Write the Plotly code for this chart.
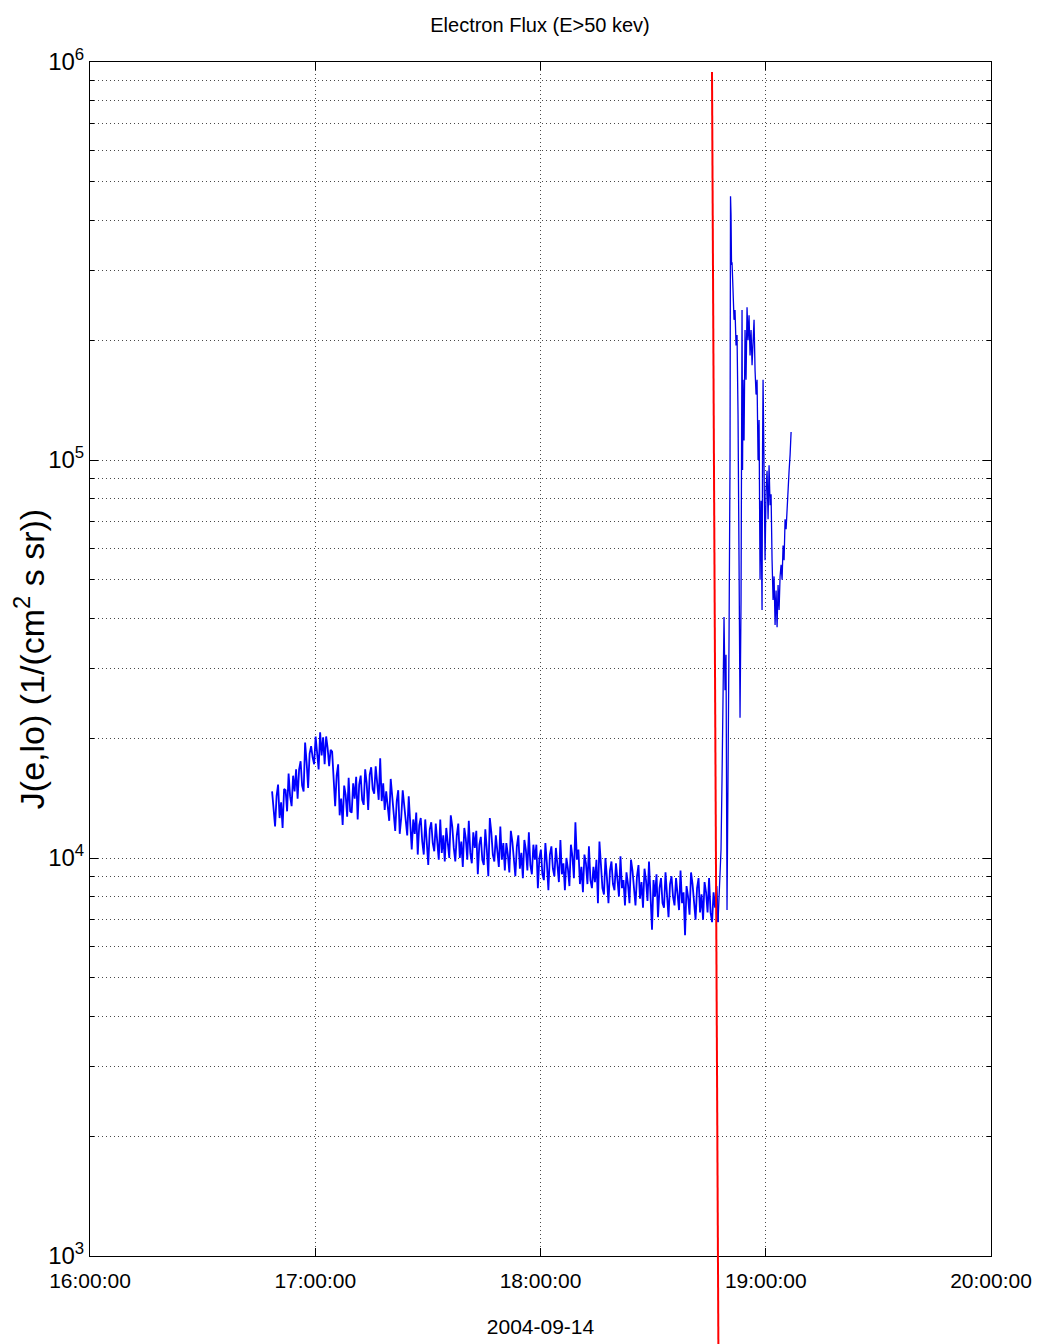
import pandas as pd
import plotly.graph_objects as go

# ---------------- data ----------------
DATE = "2004-09-14"
TITLE = "Electron Flux (E>50 kev)"
Y_TITLE = "J(e,lo) (1/(cm<sup>2</sup> s sr))"
X_TITLE = "2004-09-14"

# quiet interval, sampled every 24 s from 16:48:30 (flux in units of 1e3)
quiet_start = "2004-09-14 16:48:30"
quiet_cadence = "24s"
quiet_flux_k = [
    14.7, 13.0, 12.0, 14.3, 15.3, 12.6, 13.8, 11.9, 14.9,
    14.8, 13.1, 16.3,
    14.3, 13.5, 16.1, 14.7, 16.7,
    14.1, 16.7, 17.5, 15.2, 14.7,
    19.5, 17.4, 15.0, 18.3, 19.1,
    17.9, 17.2, 20.2, 18.3, 16.7,
    20.7, 18.1, 20.1, 17.2,
    20.2, 18.9, 17.0,
    18.7, 18.5, 16.3,
    13.5, 16.1, 17.2,
    12.8, 14.1, 12.1,
    15.2, 14.4, 12.7, 15.9, 13.1,
    13.0, 15.4, 14.1, 16.0, 12.5,
    15.3, 16.1, 14.0, 13.6, 16.7,
    15.4, 13.2, 16.2, 16.9, 14.9,
    14.5, 17.0, 15.4, 14.0, 17.8,
    13.9, 15.4, 13.2,
    14.7, 13.7, 12.4, 15.8,
    14.3, 12.6, 11.7, 13.9, 14.8,
    11.5, 12.6, 14.8, 13.6, 12.9, 11.4, 14.3, 11.8,
    10.5, 12.5, 11.5, 13.0, 10.2, 12.1, 12.6, 11.0,
    10.2, 12.5, 11.2, 9.6, 11.8, 12.3, 10.9, 10.4, 12.2, 11.1,
    9.9, 12.5, 10.3, 11.4, 9.8, 11.9, 11.1, 10.0, 12.8, 12.0, 10.6, 9.8,
    11.4, 12.2, 10.0, 11.0, 9.5, 11.9, 11.2, 9.9, 12.4, 10.3, 9.7, 11.6, 10.6,
    11.7, 9.1, 10.8, 11.3, 9.9, 9.6, 11.8, 10.5, 9.0, 12.6,
    11.6, 10.2, 9.8, 11.4, 10.4, 9.5, 12.0, 9.9, 10.9, 9.3,
    10.9, 10.2, 9.2, 11.7, 11.0, 9.7, 9.0, 10.7, 11.4, 9.4,
    10.3, 8.9, 11.1, 10.5, 9.3, 11.6, 9.6, 9.1, 10.8, 9.9,
    10.8, 8.4, 10.0, 10.5, 9.1, 8.8, 10.9, 9.7, 8.3, 10.2,
    10.7, 9.4, 9.0, 10.6, 9.6, 8.7, 11.1, 9.1,
    9.7, 8.3, 10.0, 9.4, 8.5, 10.8, 10.1, 8.9, 12.3, 9.9,
    10.5, 8.6, 9.5, 8.2, 10.2, 9.7, 8.6, 10.7, 8.8, 8.4,
    9.5, 8.7, 9.9, 7.7, 11.0, 9.6, 8.4, 8.1, 10.0, 8.9,
    7.7, 9.3, 9.8, 8.6, 8.3, 9.7, 8.8, 8.0, 10.1, 8.4,
    8.8, 7.6, 9.2, 8.6, 7.7, 9.9, 9.3, 8.2, 7.6, 9.0,
    9.6, 7.9, 8.7, 7.5, 9.4, 8.8, 7.8, 9.8, 8.1, 6.6,
    8.8, 8.0, 9.1, 7.1, 8.4, 8.9, 7.7, 7.5, 9.2, 8.2,
    7.1, 8.6, 9.0, 8.0, 7.6, 8.9, 8.1, 7.4, 9.3, 7.7,
    8.2, 6.4, 8.5, 8.0, 7.2, 9.2, 8.6, 7.6, 7.0, 8.4,
    8.9, 7.3, 8.1, 7.0, 8.7, 8.2, 7.3,
    8.9, 7.3, 6.9, 8.2, 7.5, 8.5,
]

# injection burst (irregular samples)
burst_times = [
    "18:47:17", "18:47:33", "18:47:49", "18:48:05", "18:48:21", "18:48:37",
    "18:48:53", "18:49:09", "18:49:25", "18:49:41", "18:49:57", "18:50:13",
    "18:50:29", "18:50:37", "18:50:45", "18:50:53", "18:51:01", "18:51:17",
    "18:51:33", "18:51:49", "18:52:05", "18:52:21", "18:52:37", "18:52:53",
    "18:53:09", "18:53:25", "18:53:41", "18:53:49", "18:53:57", "18:54:13",
    "18:54:29", "18:54:45", "18:55:01", "18:55:17", "18:55:33", "18:55:49",
    "18:56:05", "18:56:21", "18:56:37", "18:56:53", "18:57:09", "18:57:25",
    "18:57:41", "18:57:57", "18:58:13", "18:58:29", "18:58:45", "18:59:01",
    "18:59:09", "18:59:17", "18:59:33", "18:59:49", "19:00:05", "19:00:21",
    "19:00:37", "19:00:53", "19:01:09", "19:01:25", "19:01:41", "19:01:57",
    "19:02:13", "19:02:29", "19:02:45", "19:03:01", "19:03:17", "19:03:33",
    "19:03:49", "19:04:05", "19:04:21", "19:04:37", "19:04:53", "19:05:09",
    "19:05:25", "19:05:41", "19:05:57", "19:06:13", "19:06:29", "19:06:45",
]
burst_flux = [
    6900, 8070, 9060, 10470, 15700, 33300,
    40300, 26400, 32400, 7400, 14000, 35300,
    100000, 460000, 413000, 309000, 314000, 267000,
    225000, 238000, 194000, 206000, 130000, 56000,
    22500, 44500, 238000, 94400, 159000, 112000,
    212000, 159000, 242000, 200000, 231000, 183000,
    212000, 173000, 200000, 225000, 168000, 146000,
    159000, 100000, 126000, 50000, 79000, 42000,
    106000, 159000, 94000, 56000, 84000, 94000,
    71000, 97000, 77000, 82000, 56000, 44500,
    51000, 38500, 47000, 38000, 48500, 42000,
    51000, 54500, 50000, 61000, 56000, 71000,
    67000, 77000, 84000, 94000, 103000, 117600,
]

# red event marker line (time at top, time at bottom)
marker_times = ["2004-09-14 18:45:41", "2004-09-14 18:47:23"]

x_range = ["2004-09-14 16:00:00", "2004-09-14 20:00:00"]
x_ticks = ["2004-09-14 16:00:00", "2004-09-14 17:00:00", "2004-09-14 18:00:00",
           "2004-09-14 19:00:00", "2004-09-14 20:00:00"]
x_ticklabels = ["16:00:00", "17:00:00", "18:00:00", "19:00:00", "20:00:00"]
y_ticks = [1e3, 1e4, 1e5, 1e6]
y_ticklabels = ["10<sup>3</sup>", "10<sup>4</sup>", "10<sup>5</sup>", "10<sup>6</sup>"]
y_minor = [m * d for d in (1e3, 1e4, 1e5) for m in range(2, 10)]

# ---------------- build ----------------
quiet_t = pd.date_range(quiet_start, periods=len(quiet_flux_k), freq=quiet_cadence)
burst_t = pd.to_datetime([f"{DATE} {s}" for s in burst_times])
quiet_flux = [v * 1000 for v in quiet_flux_k]

FONT = "Liberation Sans, Arial, sans-serif"
GRID = "#4a4a4a"

fig = go.Figure()
fig.add_trace(go.Scatter(
    x=list(quiet_t) + [burst_t[0]], y=quiet_flux + [burst_flux[0]], mode="lines",
    line=dict(color="#0000ff", width=1.8),
    showlegend=False, hoverinfo="skip",
))
fig.add_trace(go.Scatter(
    x=burst_t, y=burst_flux, mode="lines",
    line=dict(color="#0000e6", width=1.3),
    showlegend=False, hoverinfo="skip",
))

fig.add_shape(type="line", xref="x", yref="paper",
              x0=marker_times[0], x1=marker_times[1], y0=0.9916, y1=-0.0737,
              line=dict(color="#ff0000", width=2), layer="above")

fig.update_layout(
    width=1038, height=1336,
    margin=dict(l=82, r=55, t=54, b=88, autoexpand=False),
    paper_bgcolor="white", plot_bgcolor="white",
    title=dict(text=TITLE, x=(540 - 8) / 1038, xanchor="center", yref="container",
               y=1 - 17 / 1336, yanchor="middle",
               font=dict(family=FONT, size=20, color="black")),
    showlegend=False,
)
fig.update_xaxes(
    type="date", range=x_range, automargin=False,
    tickmode="array", tickvals=x_ticks, ticktext=x_ticklabels,
    ticks="inside", ticklen=8, tickcolor="black",
    showline=True, linecolor="black", linewidth=1, mirror="ticks",
    showgrid=True, gridcolor=GRID, griddash="1px,3px", gridwidth=1,
    zeroline=False, ticklabelstandoff=6,
    tickfont=dict(family=FONT, size=21, color="black"),
    title=dict(text=X_TITLE, font=dict(family=FONT, size=21, color="black"), standoff=28),
)
fig.update_yaxes(
    type="log", range=[3, 6], automargin=False,
    tickmode="array", tickvals=y_ticks, ticktext=y_ticklabels,
    ticks="inside", ticklen=8, tickcolor="black",
    showline=True, linecolor="black", linewidth=1, mirror="ticks",
    showgrid=True, gridcolor=GRID, griddash="1px,3px", gridwidth=1,
    minor=dict(tickvals=y_minor, ticks="inside", ticklen=4, tickcolor="black",
               showgrid=True, gridcolor=GRID, griddash="1px,3px", gridwidth=1),
    zeroline=False, ticklabelstandoff=0,
    tickfont=dict(family=FONT, size=24, color="black"),
    title=dict(text=Y_TITLE, font=dict(family=FONT, size=34, color="black"),
               standoff=6),
)

fig.write_html("out.html")
